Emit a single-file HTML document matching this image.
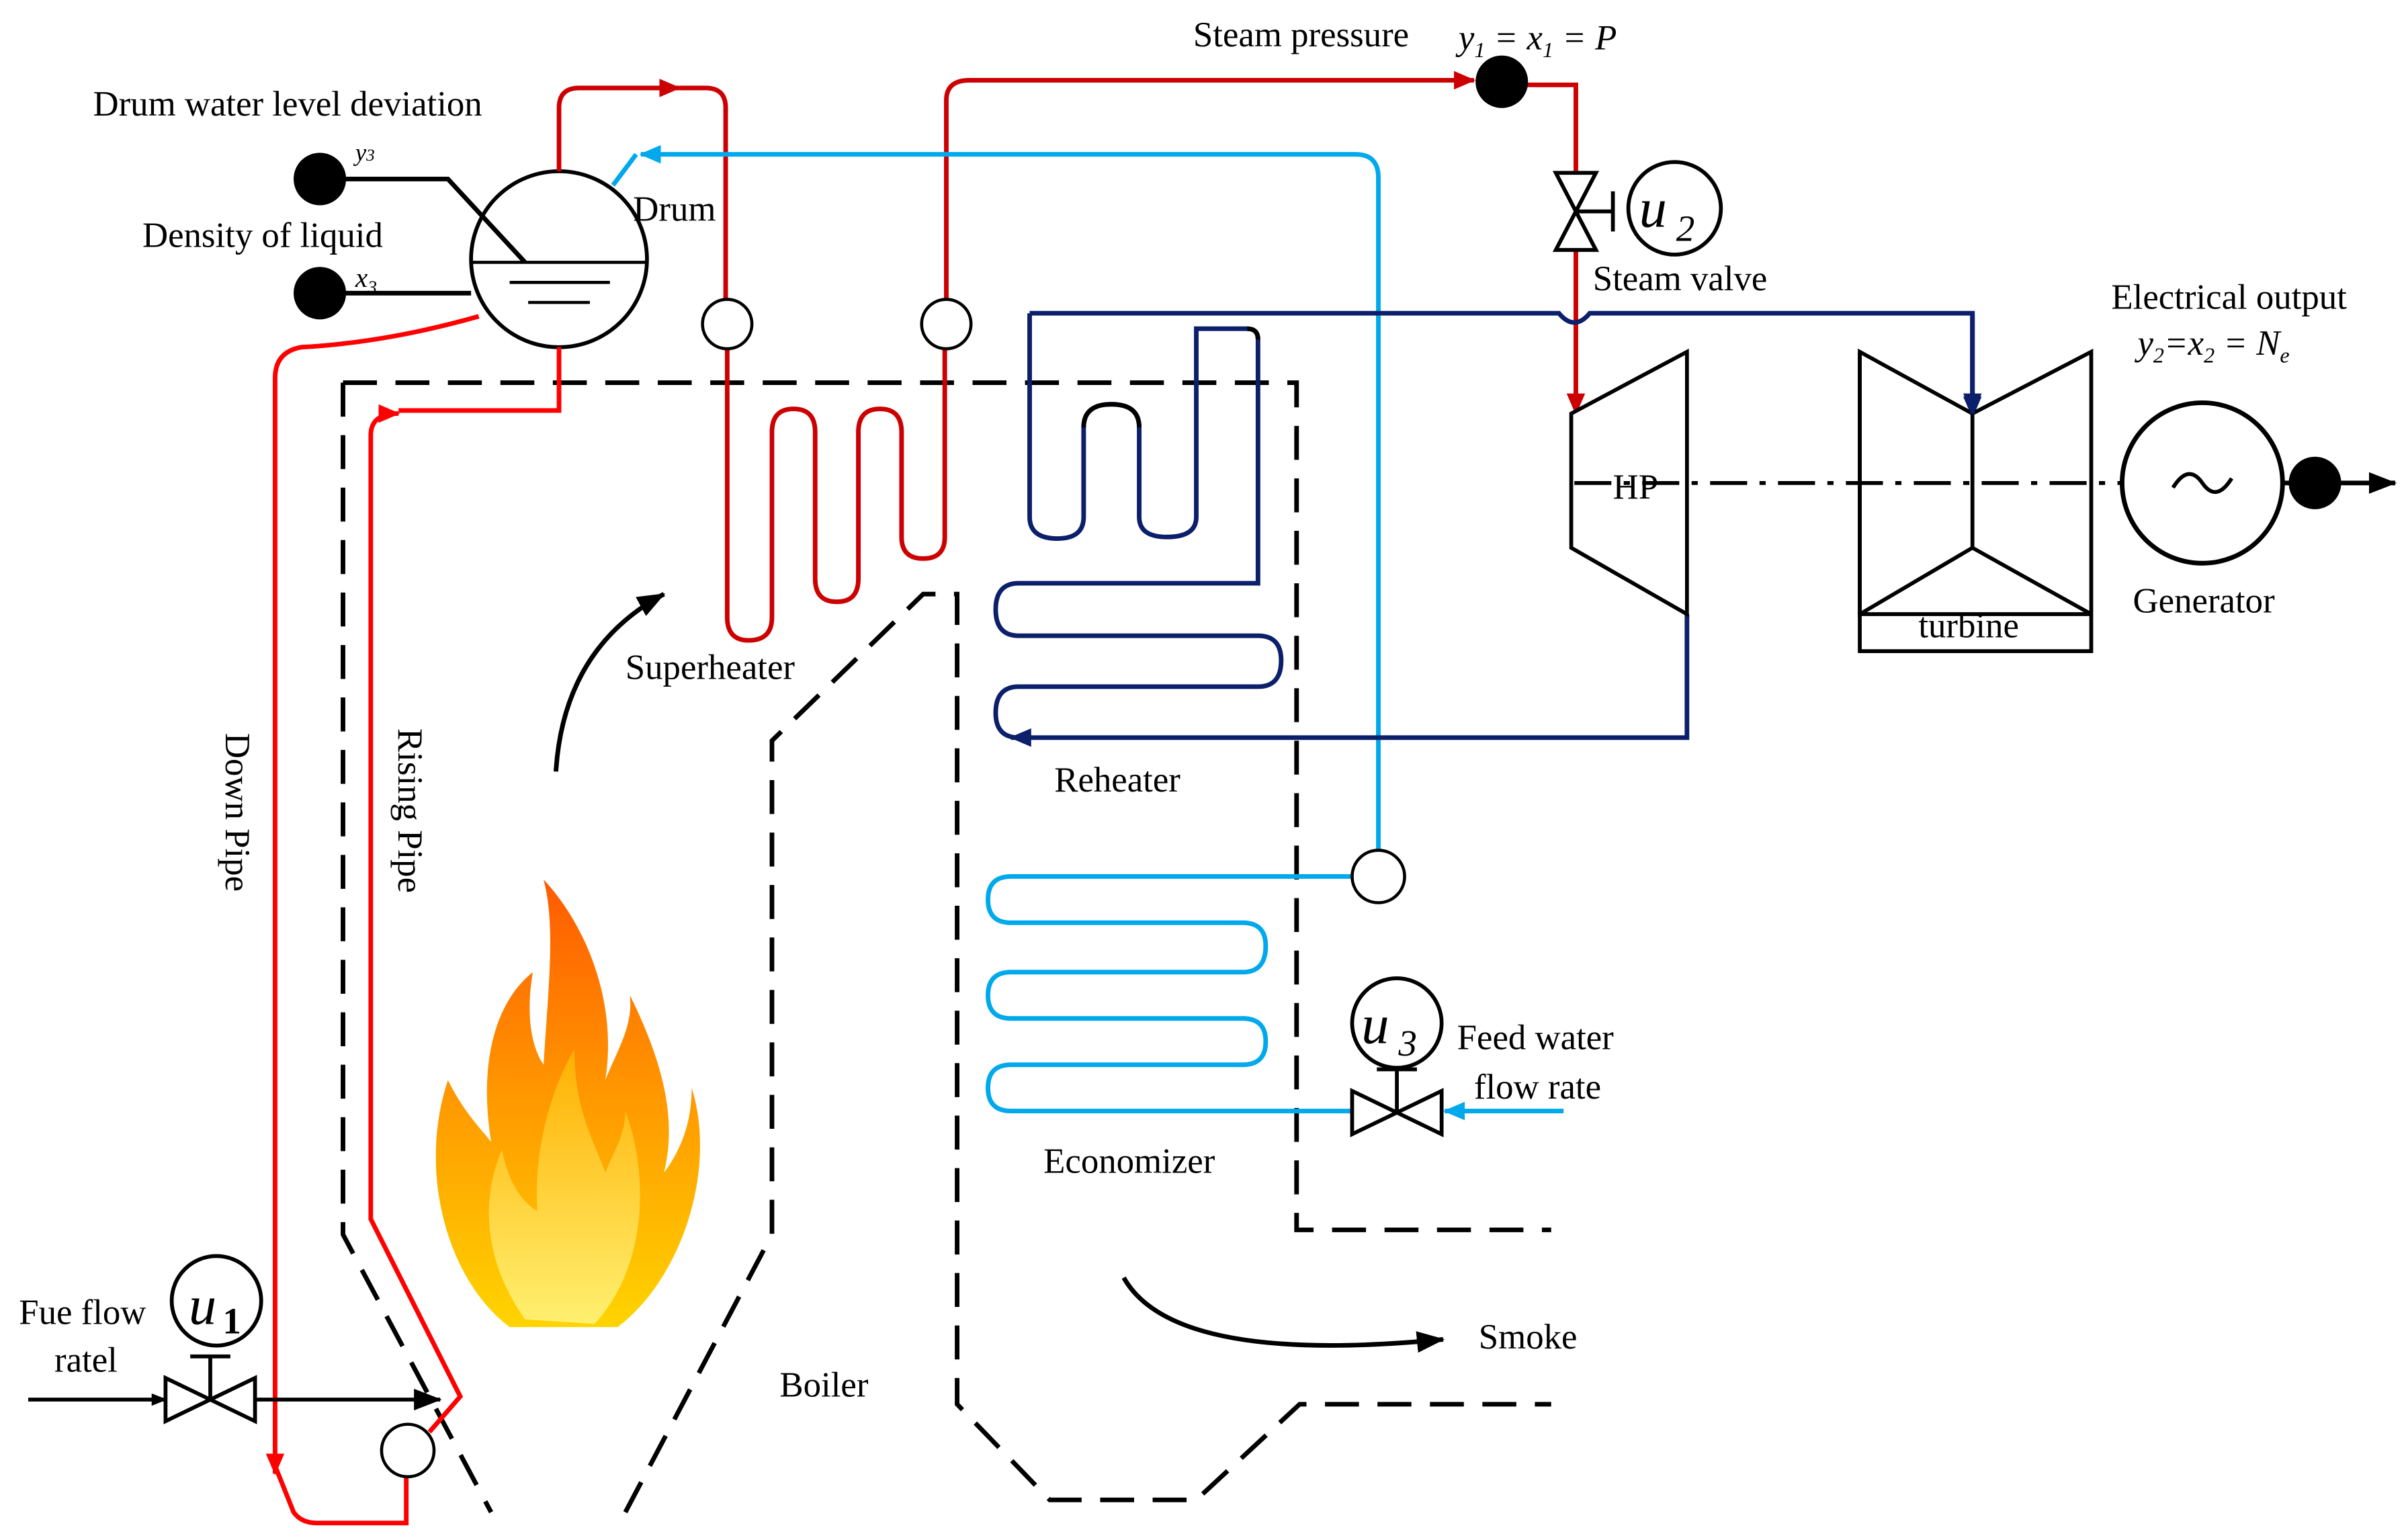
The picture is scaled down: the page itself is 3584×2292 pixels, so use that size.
<!DOCTYPE html>
<html><head><meta charset="utf-8"><style>
html,body{margin:0;padding:0;background:#fff;}
svg{display:block;}
text{font-family:"Liberation Serif",serif;fill:#000;}
</style></head><body>
<svg width="3584" height="2292" viewBox="0 0 1560 998" xmlns="http://www.w3.org/2000/svg">
<defs>
<marker id="ab" markerWidth="10" markerHeight="10" refX="9" refY="5" orient="auto" markerUnits="userSpaceOnUse"><path d="M0,1 L10,5 L0,9 z" fill="#000"/></marker>
<marker id="ar" markerWidth="14" markerHeight="12" refX="13" refY="6" orient="auto" markerUnits="userSpaceOnUse"><path d="M0,0 L14,6 L0,12 z" fill="#c00"/></marker>
<marker id="arb" markerWidth="14" markerHeight="12" refX="13" refY="6" orient="auto" markerUnits="userSpaceOnUse"><path d="M0,0 L14,6 L0,12 z" fill="#f00"/></marker>
<marker id="alb" markerWidth="14" markerHeight="12" refX="13" refY="6" orient="auto" markerUnits="userSpaceOnUse"><path d="M0,0 L14,6 L0,12 z" fill="#00a8ec"/></marker>
<marker id="adb" markerWidth="14" markerHeight="12" refX="13" refY="6" orient="auto" markerUnits="userSpaceOnUse"><path d="M0,0 L14,6 L0,12 z" fill="#0b1f6b"/></marker>
<marker id="ak" markerWidth="18" markerHeight="14" refX="17" refY="7" orient="auto" markerUnits="userSpaceOnUse"><path d="M0,0 L18,7 L0,14 z" fill="#000"/></marker>
<linearGradient id="fl" x1="0" y1="1" x2="0" y2="0"><stop offset="0" stop-color="#ffd400"/><stop offset="0.5" stop-color="#ff9a00"/><stop offset="1" stop-color="#ff5a00"/></linearGradient>
<linearGradient id="fl2" x1="0" y1="1" x2="0" y2="0"><stop offset="0" stop-color="#fff070"/><stop offset="1" stop-color="#ffb000"/></linearGradient>
</defs>

<!-- boiler dashed walls -->
<g fill="none" stroke="#000" stroke-width="3" stroke-dasharray="22,12">
<path d="M222,248 L840,248 L840,797 L1005,797"/>
<path d="M222,248 L222,800 L318,980"/>
<path d="M405,980 L500,800 L500,480 L598,385 L620,385 L620,910 L680,972 L775,972 L842,910 L1005,910"/>
</g>

<!-- flame -->
<path d="M330,860 C290,830 270,760 290,700 C300,720 310,730 318,740 C310,690 320,650 345,630 C340,660 345,680 352,690 C355,640 360,600 352,570 C380,600 400,650 392,700 C400,680 410,665 408,645 C425,680 440,720 430,760 C445,740 448,720 448,705 C465,760 440,830 400,860 Z" fill="url(#fl)"/>
<path d="M340,855 C315,820 310,780 325,745 C330,770 340,780 348,785 C345,740 360,700 372,680 C372,720 385,740 392,760 C398,745 405,735 405,720 C420,760 420,820 385,858 Z" fill="url(#fl2)"/>

<!-- drum -->
<circle cx="362" cy="168" r="57" fill="#fff" stroke="#000" stroke-width="2.5"/>
<line x1="305" y1="170" x2="419" y2="170" stroke="#000" stroke-width="2"/>
<line x1="330" y1="183" x2="395" y2="183" stroke="#000" stroke-width="2"/>
<line x1="342" y1="196" x2="382" y2="196" stroke="#000" stroke-width="2"/>
<polyline points="207,116 290,116 340,170" fill="none" stroke="#000" stroke-width="3"/>
<line x1="207" y1="190" x2="305" y2="190" stroke="#000" stroke-width="3"/>
<circle cx="207" cy="116" r="17" fill="#000"/>
<circle cx="207" cy="190" r="17" fill="#000"/>

<!-- superheater red -->
<g fill="none" stroke="#c00" stroke-width="3">
<path d="M362,111 L362,70 Q362,57 375,57 L440,57" marker-end="url(#ar)"/>
<path d="M440,57 L457,57 Q470,57 470,70 L470,194"/>
<path d="M471,226 L471,400 Q471,415 485,415 Q500,415 500,400 L500,280 Q500,265 514,265 Q528,265 528,280 L528,375 Q528,390 542,390 Q556,390 556,375 L556,280 Q556,265 570,265 Q584,265 584,280 L584,348 Q584,362 598,362 Q612,362 612,348 L612,226"/>
<path d="M613,194 L613,65 Q613,52 628,52 L955,52" marker-end="url(#ar)"/>
<path d="M973,55 L1021,55 L1021,112"/>
<path d="M1021,162 L1021,268" marker-end="url(#ar)"/>
</g>
<circle cx="471" cy="210" r="16" fill="#fff" stroke="#000" stroke-width="2"/>
<circle cx="613" cy="210" r="16" fill="#fff" stroke="#000" stroke-width="2"/>
<circle cx="973" cy="53" r="17" fill="#000"/>

<!-- steam valve -->
<path d="M1008,112 L1034,112 L1008,162 L1034,162 Z" fill="#fff" stroke="#000" stroke-width="2.5"/>
<line x1="1021" y1="137" x2="1045" y2="137" stroke="#000" stroke-width="2.5"/>
<line x1="1045" y1="124" x2="1045" y2="150" stroke="#000" stroke-width="2.5"/>
<circle cx="1085" cy="135" r="30" fill="#fff" stroke="#000" stroke-width="2.5"/>
<text x="1062" y="147" font-size="36" font-style="italic">u</text><text x="1086" y="156" font-size="24" font-style="italic">2</text>

<!-- down / rising pipes -->
<g fill="none" stroke="#f00" stroke-width="3">
<path d="M310,205 Q250,222 195,225 Q178,228 178,245 L178,955" marker-end="url(#arb)"/>
<path d="M178,950 L190,980 Q195,987 205,987 L263,987 L263,957"/>
<path d="M278,928 L298,905 L240,790 L240,282 Q240,268 258,268" marker-end="url(#arb)"/>
<path d="M258,266 L362,266 L362,225"/>
</g>
<circle cx="264" cy="940" r="17" fill="#fff" stroke="#000" stroke-width="2"/>

<!-- light blue economizer -->
<g fill="none" stroke="#00a8ec" stroke-width="3">
<path d="M893,552 L893,115 Q893,100 878,100 L415,100" marker-end="url(#alb)"/>
<line x1="412" y1="100" x2="397" y2="120"/>
<path d="M876,568 L655,568 Q640,568 640,583 Q640,598 655,598 L805,598 Q820,598 820,613 Q820,630 805,630 L655,630 Q640,630 640,645 Q640,660 655,660 L805,660 Q820,660 820,675 Q820,690 805,690 L655,690 Q640,690 640,705 Q640,720 655,720 L876,720"/>
<path d="M1013,720 L936,720" marker-end="url(#alb)"/>
</g>
<circle cx="893" cy="568" r="17" fill="#fff" stroke="#000" stroke-width="2"/>
<path d="M876,707 L876,735 L934,707 L934,735 Z" fill="#fff" stroke="#000" stroke-width="2.5"/>
<line x1="905" y1="721" x2="905" y2="693" stroke="#000" stroke-width="2.5"/>
<line x1="892" y1="693" x2="918" y2="693" stroke="#000" stroke-width="2.5"/>
<circle cx="905" cy="663" r="29" fill="#fff" stroke="#000" stroke-width="2.5"/>
<text x="882" y="676" font-size="36" font-style="italic">u</text><text x="906" y="684" font-size="24" font-style="italic">3</text>

<!-- dark blue reheater -->
<g fill="none" stroke="#0b1f6b" stroke-width="3">
<path d="M667,203 L1010,203 Q1020,215 1030,203 L1278,203 L1278,270" marker-end="url(#adb)"/>
<path d="M667,203 L667,335 Q667,349 685,349 Q702,349 702,335 L702,277 Q702,262 720,262 Q738,262 738,277 L738,335 Q738,348 756,348 Q775,348 775,335 L775,213 L808,213 Q815,213 815,220 L815,378 L660,378 Q645,378 645,395 Q645,412 660,412 L815,412 Q830,412 830,428 Q830,445 815,445 L660,445 Q645,445 645,462 Q645,478 660,478"/>
<path d="M1093,398 L1093,478 L655,478" marker-end="url(#adb)"/>
</g>
<g fill="none" stroke="#000" stroke-width="3">
<path d="M702,277 Q702,262 720,262 Q738,262 738,277"/>
<path d="M808,213 Q815,213 815,220"/>
</g>

<!-- HP turbine -->
<path d="M1018,268 L1093,228 L1093,398 L1018,355 Z" fill="#fff" stroke="#000" stroke-width="2.5"/>
<!-- LP turbine -->
<path d="M1205,228 L1278,268 L1355,228 L1355,422 L1205,422 Z" fill="#fff" stroke="#000" stroke-width="2.5"/>
<path d="M1205,228 L1205,398 L1278,355 L1355,398 M1278,268 L1278,355 M1205,398 L1355,398" fill="none" stroke="#000" stroke-width="2.5"/>
<line x1="1278" y1="203" x2="1278" y2="268" stroke="#0b1f6b" stroke-width="3" marker-end="url(#adb)"/>

<!-- shaft -->
<line x1="1020" y1="313" x2="1375" y2="313" stroke="#000" stroke-width="2.5" stroke-dasharray="24,8,4,8"/>
<circle cx="1427" cy="313" r="52" fill="#fff" stroke="#000" stroke-width="3"/>
<path d="M1408,316 Q1418,300 1427,313 Q1436,326 1446,310" fill="none" stroke="#000" stroke-width="2.5"/>
<line x1="1479" y1="313" x2="1552" y2="313" stroke="#000" stroke-width="3" marker-end="url(#ak)"/>
<circle cx="1500" cy="313" r="17" fill="#000"/>

<!-- fuel -->
<line x1="18" y1="907" x2="107" y2="907" stroke="#000" stroke-width="2.5" marker-end="url(#ab)"/>
<path d="M107,893 L107,921 L165,893 L165,921 Z" fill="#fff" stroke="#000" stroke-width="2.5"/>
<line x1="165" y1="907" x2="285" y2="907" stroke="#000" stroke-width="2.5" marker-end="url(#ak)"/>
<line x1="136" y1="907" x2="136" y2="879" stroke="#000" stroke-width="2.5"/>
<line x1="123" y1="879" x2="149" y2="879" stroke="#000" stroke-width="2.5"/>
<circle cx="140" cy="843" r="29" fill="#fff" stroke="#000" stroke-width="2.5"/>
<text x="122" y="858" font-size="36" font-style="italic">u</text><text x="144" y="864" font-size="24" font-weight="bold">1</text>

<!-- arrows -->
<path d="M360,500 Q365,420 430,385" fill="none" stroke="#000" stroke-width="3" marker-end="url(#ak)"/>
<path d="M728,828 Q760,885 935,868" fill="none" stroke="#000" stroke-width="3" marker-end="url(#ak)"/>

<!-- labels -->
<g font-size="23">
<text x="773" y="30">Steam pressure</text>
<text x="945" y="32" font-style="italic">y<tspan font-size="14" dy="5">1</tspan><tspan dy="-5"> = x</tspan><tspan font-size="14" dy="5">1</tspan><tspan dy="-5"> = P</tspan></text>
<text x="60" y="75">Drum water level deviation</text>
<text x="230" y="104" font-size="16" font-style="italic" fill="#888">y<tspan font-size="11">3</tspan></text>
<text x="92" y="160">Density of liquid</text>
<text x="230" y="186" font-size="18" font-style="italic">x<tspan font-size="12" dy="4">3</tspan></text>
<text x="410" y="143">Drum</text>
<text x="1032" y="188">Steam valve</text>
<text x="1368" y="200">Electrical output</text>
<text x="1385" y="230" font-style="italic">y<tspan font-size="14" dy="5">2</tspan><tspan dy="-5">=x</tspan><tspan font-size="14" dy="5">2</tspan><tspan dy="-5"> = N</tspan><tspan font-size="14" dy="5">e</tspan></text>
<text x="1045" y="323">HP</text>
<text x="1243" y="413">turbine</text>
<text x="1382" y="397">Generator</text>
<text x="405" y="440">Superheater</text>
<text x="683" y="513">Reheater</text>
<text x="676" y="760">Economizer</text>
<text x="944" y="680">Feed water</text>
<text x="955" y="712">flow rate</text>
<text x="958" y="874">Smoke</text>
<text x="505" y="905">Boiler</text>
<text x="12" y="858">Fue flow</text>
<text x="35" y="889">ratel</text>
<text transform="translate(146,475) rotate(90)">Down Pipe</text>
<text transform="translate(258,472) rotate(90)">Rising Pipe</text>
</g>
</svg>
</body></html>
